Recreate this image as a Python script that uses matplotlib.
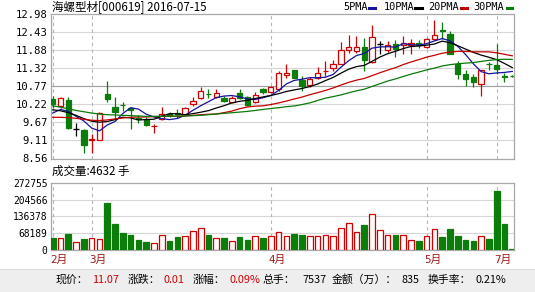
import numpy as np
import pandas as pd
import matplotlib
matplotlib.use("Agg")
import matplotlib.pyplot as plt
from matplotlib.lines import Line2D
from matplotlib.patches import Rectangle
from matplotlib.transforms import blended_transform_factory

# ---------------- data ----------------
opens = [10.37, 10.17, 10.34, 9.45, 9.42, 9.13, 9.14, 10.52, 10.13, 10.20,
         10.11, 9.80, 9.78, 9.54, 9.78, 9.93, 9.94, 9.91, 10.22, 10.40,
         10.54, 10.45, 10.40, 10.30, 10.55, 10.45, 10.29, 10.68, 10.60, 10.68,
         11.12, 11.26, 10.97, 10.80, 11.03, 11.23, 11.34, 11.46, 11.88, 11.86,
         11.96, 11.50, 12.06, 11.88, 12.07, 12.02, 12.03, 12.09, 11.96, 12.22,
         12.49, 12.37, 11.44, 11.14, 11.05, 10.83, 11.46, 11.42, 11.08, 11.08]
highs = [10.47, 10.44, 10.44, 9.64, 9.45, 9.30, 9.98, 10.93, 10.44, 10.30,
         10.13, 9.88, 9.82, 9.62, 10.15, 9.97, 10.06, 10.13, 10.44, 10.76,
         10.68, 10.68, 10.47, 10.46, 10.68, 10.48, 10.60, 10.72, 10.78, 11.25,
         11.46, 11.28, 11.09, 11.05, 11.36, 11.55, 11.57, 12.11, 12.33, 12.31,
         12.24, 12.65, 12.16, 12.15, 12.18, 12.31, 12.21, 12.18, 12.25, 12.79,
         12.75, 12.45, 11.53, 11.26, 11.14, 11.28, 11.52, 12.07, 11.19, 11.10]
lows = [10.12, 10.12, 9.47, 9.24, 8.72, 8.72, 9.12, 10.30, 9.73, 10.02,
        9.45, 9.66, 9.55, 9.35, 9.75, 9.84, 9.79, 9.88, 10.17, 10.38,
        10.41, 10.42, 10.28, 10.26, 10.37, 10.16, 10.27, 10.52, 10.56, 10.63,
        11.03, 11.01, 10.62, 10.76, 11.00, 11.08, 11.24, 11.44, 11.80, 11.80,
        11.24, 11.47, 11.77, 11.82, 11.65, 11.75, 11.75, 11.93, 11.94, 12.20,
        12.21, 11.75, 10.98, 10.78, 10.75, 10.47, 11.26, 11.15, 10.91, 11.04]
closes = [10.24, 10.40, 9.48, 9.45, 8.97, 9.16, 9.96, 10.38, 9.99, 10.19,
          10.04, 9.76, 9.60, 9.56, 9.93, 9.90, 9.93, 10.09, 10.32, 10.63,
          10.52, 10.56, 10.32, 10.40, 10.42, 10.20, 10.49, 10.58, 10.75, 11.19,
          11.19, 11.03, 10.77, 10.98, 11.19, 11.25, 11.46, 11.88, 11.98, 11.98,
          11.56, 12.28, 12.06, 12.02, 11.91, 12.10, 12.10, 12.02, 12.23, 12.33,
          12.46, 11.77, 11.16, 10.99, 10.91, 11.26, 11.44, 11.29, 11.06, 11.07]
volumes = [50000, 47500, 66000, 31000, 44600, 47500, 44600, 190800, 105500, 69000,
           62000, 40600, 32500, 28400, 59600, 36500, 52800, 58000, 76000, 88000,
           61000, 47500, 48700, 35000, 52800, 40600, 56800, 48700, 58000, 71800,
           58000, 65000, 61000, 55600, 58000, 61000, 55600, 89000, 108000, 71800,
           101500, 145000, 80000, 61000, 61000, 61000, 39000, 36500, 56800, 85000,
           52800, 85000, 58000, 40600, 36500, 56800, 44600, 240700, 105500, 4632]

# moving-average values before each window is full
ma5_head = [9.95, 10.06, 10.00, 9.85]
ma10_head = [10.05, 10.02, 9.96, 9.88, 9.78, 9.70, 9.67, 9.69, 9.75]
ma20_head = [9.82, 9.82, 9.81, 9.79, 9.76, 9.73, 9.72, 9.74, 9.77, 9.80,
             9.82, 9.83, 9.83, 9.84, 9.85, 9.85, 9.85, 9.86, 9.88]
ma30_head = [10.17, 10.13, 10.08, 10.03, 9.99, 9.95, 9.92, 9.90, 9.89, 9.88,
             9.87, 9.86, 9.85, 9.85, 9.85, 9.85, 9.86, 9.86, 9.87, 9.88,
             9.90, 9.92, 9.94, 9.96, 9.98, 10.00, 10.03, 10.06, 10.09]

price_ticks = ['8.56', '9.11', '9.67', '10.22', '10.77', '11.32', '11.88', '12.43', '12.98']
vol_ticks = ['0', '68189', '136378', '204566', '272755']
month_labels = ['2月', '3月', '4月', '5月', '7月']
month_index = [0, 5, 28, 48, 57]
ma_labels = ['5PMA', '10PMA', '20PMA', '30PMA']

title = '海螺型材[000619] 2016-07-15'
vol_title = '成交量:4632 手'
status = [('现价：', 'k'), ('11.07', 'r'), ('涨跌：', 'k'), ('0.01', 'r'),
          ('涨幅：', 'k'), ('0.09%', 'r'), ('总手：', 'k'), ('7537', 'k'),
          ('金额（万）：', 'k'), ('835', 'k'), ('换手率：', 'k'), ('0.21%', 'k')]

# ---------------- style ----------------
W, H = 535, 292
RED = '#d00000'
GREEN = '#0a7d0a'
MA_COLORS = ['#14149c', '#000000', '#c40000', '#0a7a0a']
GRID = '#d6d6d6'
SPINE = '#a8a8a8'
CJK = ['Noto Sans CJK SC', 'DejaVu Sans']
MONO = ['DejaVu Sans Mono', 'Noto Sans CJK SC']

def fx(px):
    return px / W

def fy(py):
    return 1 - py / H

fig = plt.figure(figsize=(W / 100, H / 100), dpi=100)
fig.patch.set_facecolor('white')

ax = fig.add_axes([fx(51), fy(158.5), (514.3 - 51) / W, (158.5 - 14) / H])
axv = fig.add_axes([fx(51), fy(250), (514.3 - 51) / W, (250 - 182.7) / H])

n = len(closes)
x = np.arange(n)
o = np.array(opens); c = np.array(closes); h = np.array(highs); l = np.array(lows)
v = np.array(volumes)

up = c > o
down = c < o
flat = c == o
bw = 0.68

# wicks
wick_colors = np.where(up, RED, np.where(down, GREEN, '#000000'))
ax.vlines(x, l, h, colors=wick_colors, lw=0.9, zorder=2)
# bodies
ax.bar(x[up], (c - o)[up], bottom=o[up], width=bw, facecolor='#fffafa',
       edgecolor=RED, linewidth=0.9, zorder=3)
ax.bar(x[down], (o - c)[down], bottom=c[down], width=bw, facecolor=GREEN,
       edgecolor=GREEN, linewidth=0.9, zorder=3)
ax.hlines(c[flat], x[flat] - bw / 2, x[flat] + bw / 2, colors='#000000', lw=1.0, zorder=3)

# moving averages
cs = pd.Series(closes)
for win, head, col in zip([5, 10, 20, 30], [ma5_head, ma10_head, ma20_head, ma30_head], MA_COLORS):
    m = cs.rolling(win).mean().to_numpy()
    m[:win - 1] = head
    ax.plot(x, m, color=col, lw=0.9, zorder=4)

# volume
vup = c >= o
axv.bar(x[vup], v[vup], width=0.72, facecolor='#fffafa', edgecolor=RED, linewidth=0.9, zorder=3)
axv.bar(x[~vup], v[~vup], width=0.72, facecolor=GREEN, edgecolor=GREEN, linewidth=0.9, zorder=3)

# axes styling
xl = (-0.22, 59.26)
for a in (ax, axv):
    a.set_xlim(*xl)
    a.set_xticks([])
    for s in a.spines.values():
        s.set_color(SPINE)
        s.set_linewidth(0.9)
    a.tick_params(axis='y', length=0, pad=2.5)
    a.set_facecolor('white')
    for mi in month_index:
        a.axvline(mi, color='#b4b4b4', lw=0.8, ls=(0, (3, 3)), zorder=1)

ax.set_ylim(8.56, 12.98)
pt = np.linspace(8.56, 12.98, len(price_ticks))
ax.set_yticks(pt)
ax.set_yticklabels(price_ticks, family=MONO, fontsize=7.6)
for yv in pt[1:-1]:
    ax.axhline(yv, color=GRID, lw=0.8, zorder=0)
ax.axhline(pt[4], color='#a0a0a0', lw=0.8, zorder=0)

axv.set_ylim(0, 272755)
vt = np.linspace(0, 272755, len(vol_ticks))
axv.set_yticks(vt)
axv.set_yticklabels(vol_ticks, family=MONO, fontsize=6.9)
for yv in vt[1:-1]:
    axv.axhline(yv, color=GRID, lw=0.8, zorder=0)

# month labels
tr = blended_transform_factory(axv.transData, fig.transFigure)
for lab, mi in zip(month_labels, month_index):
    axv.text(mi - 0.3, fy(260), lab, transform=tr, ha='left', va='center',
             fontsize=7.8, color='#a01818', family=MONO)

# title / legend / volume caption
fig.text(fx(52), fy(7), title, ha='left', va='center', fontsize=8.3, family=CJK)
fig.text(fx(52), fy(171), vol_title, ha='left', va='center', fontsize=8.3, family=CJK)

leg_text_x = [343, 384, 428, 473]
leg_mark_x = [(369, 375), (415, 422), (461, 467), (507, 512)]
for lab, tx, (m0, m1), col in zip(ma_labels, leg_text_x, leg_mark_x, MA_COLORS):
    fig.text(fx(tx), fy(7), lab, ha='left', va='center', fontsize=7.4, family=MONO)
    fig.add_artist(Line2D([fx(m0), fx(m1)], [fy(8), fy(8)], color=col, lw=2.2,
                          transform=fig.transFigure))

# status bar
fig.add_artist(Rectangle((0, 0), 1, fy(269), transform=fig.transFigure,
                         facecolor='#eeeeee', edgecolor='none', zorder=0))
fig.add_artist(Line2D([0, 1], [fy(269), fy(269)], color='#dcdcdc', lw=0.8,
                      transform=fig.transFigure))
status_x = [55, 92, 128, 163, 193, 229, 263, 302, 332, 402, 428, 475]
for (txt, col), sx in zip(status, status_x):
    fig.text(fx(sx), fy(280), txt, ha='left', va='center', fontsize=7.8,
             color=(RED if col == 'r' else '#000000'), family=CJK)

fig.savefig('out.png', dpi=100)
